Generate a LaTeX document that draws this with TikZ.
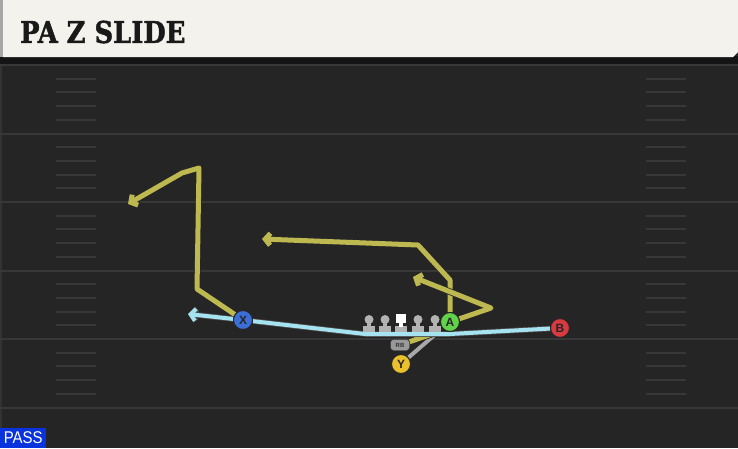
\documentclass[tikz,border=0pt]{standalone}
\usepackage{fontspec}
\setsansfont{Liberation Sans}
\newfontfamily\titlefont[BoldFeatures={FakeBold=1.6}]{DejaVu Serif}
\usetikzlibrary{arrows.meta}

\definecolor{fieldbg}{HTML}{252525}
\definecolor{fieldline}{HTML}{383838}
\definecolor{headerbg}{HTML}{F4F2EC}
\definecolor{routeolive}{HTML}{BDB84F}
\definecolor{motioncyan}{HTML}{A6E3F0}
\definecolor{blockgray}{HTML}{A8A8A8}
\definecolor{xblue}{HTML}{3C6FD6}
\definecolor{agreen}{HTML}{62D24A}
\definecolor{bred}{HTML}{D83A40}
\definecolor{yyellow}{HTML}{EAC02C}
\definecolor{passblue}{HTML}{0A33E0}

\pgfdeclarelayer{field}
\pgfdeclarelayer{routes}
\pgfsetlayers{field,routes,main}

\tikzset{
  player/.style={circle, draw=black!85, line width=1pt, minimum size=19pt, inner sep=0pt,
    font=\sffamily\bfseries\fontsize{12}{12}\selectfont, text=black!85},
  route/.style={line width=5pt, draw=routeolive, line join=round,
    preaction={draw=black!85, line width=6.5pt}},
  motion/.style={line width=4pt, draw=motioncyan, line join=round,
    preaction={draw=black!70, line width=5.5pt}},
  block/.style={line width=4pt, draw=blockgray},
  tip/.style={-{Straight Barb[length=5pt,width=12pt]}},
  hash/.style={draw=fieldline, line width=2pt},
  yardline/.style={draw=fieldline, line width=2pt}
}

\begin{document}
\begin{tikzpicture}[x=1pt, y=-1pt]
    \useasboundingbox (0, 0) rectangle (738, 448);

    % Draw the field
    \begin{pgfonlayer}{field}
        \fill[fieldbg] (0, 0) rectangle (738, 448);
        \fill[black!92] (0, 56) rectangle (738, 64);
        \fill[black!80] (0, 64) rectangle (2, 448);

        \draw[yardline] (0, 65) -- (738, 65);
        \draw[yardline] (0, 133.5) -- (738, 133.5);
        \draw[yardline] (0, 202) -- (738, 202);
        \draw[yardline] (0, 270.5) -- (738, 270.5);
        \draw[yardline] (0, 339) -- (738, 339);
        \draw[yardline] (0, 407.5) -- (738, 407.5);

        % Hash marks between the yard lines
        \foreach \y in {65, 133.5, 202, 270.5, 339} {
            \foreach \k in {1, 2, 3, 4} {
                \draw[hash] (56, \y + 13.7*\k) -- (96, \y + 13.7*\k);
                \draw[hash] (646, \y + 13.7*\k) -- (686, \y + 13.7*\k);
            }
        }

        % Draw the header with the play name
        \fill[headerbg] (3, 0) -- (738, 0) -- (738, 52) -- (733, 57) -- (3, 57) -- cycle;
        \fill[black!35] (0, 0) rectangle (3, 57);
    \end{pgfonlayer}

    \node[anchor=west, inner sep=0pt, text=black!90] (title) at (20, 32)
        {\scalebox{0.86}[1]{\titlefont\bfseries\fontsize{30}{30}\selectfont PA Z SLIDE}};

    % Draw the players
    \node[player, fill=xblue] (X) at (243, 320) {X};
    \node[player, fill=agreen] (A) at (450, 322) {A};
    \node[player, fill=bred] (B) at (560, 328) {B};
    \node[player, fill=yyellow] (Y) at (401, 364) {Y};
    \node[draw=black!80, fill=black!40, rounded corners=3pt, minimum width=19pt,
        minimum height=11pt, inner sep=0pt, font=\sffamily\bfseries\fontsize{6}{6}\selectfont,
        text=black!80] (RB) at (400, 345) {RB};
    \coordinate (mesh) at (438, 332);

    % Draw the routes
    \begin{pgfonlayer}{routes}
        \draw[block] (Y) -- (mesh);
        \draw[route] (RB) -- (mesh);
        \draw[route, tip] (X) -- (197, 289) -- (199, 168) -- (182, 173) -- (128, 204);
        \draw[route, tip] (A) -- (450, 280) -- (418, 245) -- (262, 239);
        \draw[route, tip] (A) -- (491, 308) -- (413, 277);
        \draw[motion, tip] (B) -- (450, 334) -- (365, 334) -- (X) -- (188, 314);
    \end{pgfonlayer}

    % Draw the offensive line
    \foreach \x in {369, 385, 418, 435} {
        \fill[black!30] (\x - 6, 326) rectangle (\x + 6, 332);
        \draw[black!30, line width=3.5pt] (\x, 320) -- (\x, 327);
        \fill[black!30] (\x, 319.5) circle (4.5);
    }
    \fill[black!30] (395, 326) rectangle (407, 332);
    \draw[white, line width=3.5pt] (401, 320) -- (401, 327);
    \fill[white] (396, 314) rectangle (406, 323);

    % Label the play type
    \node[anchor=south west, fill=passblue, text=white, minimum width=46pt, minimum height=20pt,
        inner sep=0pt, font=\sffamily\fontsize{17}{17}\selectfont] (mode) at (0, 448)
        {\scalebox{0.88}[1]{PASS}};
\end{tikzpicture}
\end{document}
